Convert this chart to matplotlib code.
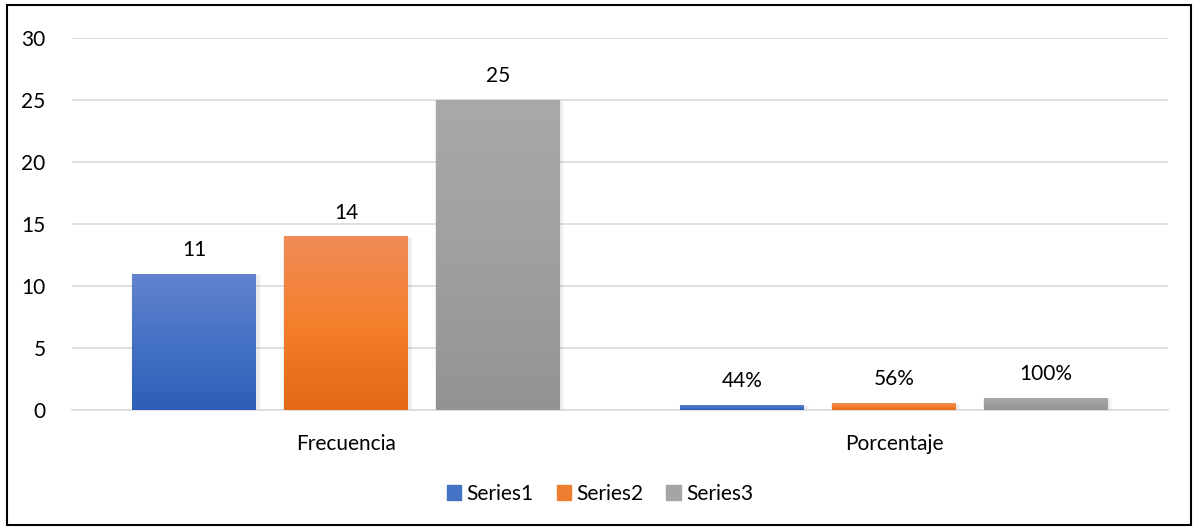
import matplotlib
matplotlib.use("Agg")
import matplotlib.pyplot as plt
import numpy as np
from matplotlib.colors import LinearSegmentedColormap
from matplotlib.patches import Rectangle

categories = ["Frecuencia", "Porcentaje"]
series_names = ["Series1", "Series2", "Series3"]
series1 = [11, 0.44]
series2 = [14, 0.56]
series3 = [25, 1.00]
labels1 = ["11", "44%"]
labels2 = ["14", "56%"]
labels3 = ["25", "100%"]
yticks = [0, 5, 10, 15, 20, 25, 30]

plt.rcParams['font.family'] = ['Lato', 'DejaVu Sans']
FS = 15

gradients = [
    ("#6383CE", "#4472C4", "#2D5EB8"),
    ("#F08C57", "#F47F2D", "#E36915"),
    ("#A9A9A9", "#A0A0A0", "#939393"),
]
legend_colors = ["#4472C4", "#ED7D31", "#A5A5A5"]

fig = plt.figure(figsize=(11.98, 5.29), dpi=100)
ax = fig.add_axes([72/1198, 1 - 410/529, 1096/1198, 372/529])

x = np.arange(len(categories))
width = 0.226
step = 0.277
all_series = [series1, series2, series3]
all_labels = [labels1, labels2, labels3]

ax.set_xlim(-0.5, 1.5)
ax.set_ylim(0, 30)

for i, (vals, labs) in enumerate(zip(all_series, all_labels)):
    pos = x + (i - 1) * step
    # shadow
    for dx, a in [(0.006, 0.10), (0.010, 0.06)]:
        ax.bar(pos + dx * 0.3, vals, width + dx, bottom=-0.08, color="#808080",
               alpha=a, zorder=2, linewidth=0)
    bars = ax.bar(pos, vals, width, color=legend_colors[i], zorder=3,
                  linewidth=0, label=series_names[i])
    cmap = LinearSegmentedColormap.from_list("g%d" % i, list(gradients[i][::-1]))
    grad = np.linspace(0, 1, 256).reshape(-1, 1)
    for b, v, lab in zip(bars, vals, labs):
        x0 = b.get_x()
        im = ax.imshow(grad, cmap=cmap, aspect="auto", origin="lower",
                       extent=[x0, x0 + width, 0, v], zorder=4,
                       interpolation="bilinear")
        im.set_clip_path(b)
        ax.text(b.get_x() + width / 2, v + 1.1, lab, ha="center", va="bottom",
                fontsize=FS, color="#000000", zorder=5)

ax.set_xlim(-0.5, 1.5)
ax.set_ylim(0, 30)
ax.set_yticks(yticks)
ax.set_yticklabels([str(t) for t in yticks], fontsize=FS)
ax.set_xticks(x)
ax.set_xticklabels(categories, fontsize=FS)
ax.tick_params(axis="both", length=0, colors="#000000")
ax.tick_params(axis="y", pad=19)
ax.tick_params(axis="x", pad=17)
ax.grid(axis="y", color="#D9D9D9", linewidth=1.2, zorder=0)
ax.set_axisbelow(True)
for s in ["top", "right", "left"]:
    ax.spines[s].set_visible(False)
ax.spines["bottom"].set_color("#D9D9D9")
ax.spines["bottom"].set_linewidth(1.2)

handles = [Rectangle((0, 0), 1, 1, color=c) for c in legend_colors]
fig.legend(handles, series_names, loc="center", bbox_to_anchor=(600/1198, 1 - 494/529),
           ncol=3, frameon=False, fontsize=FS, handlelength=0.7, handleheight=0.7,
           handletextpad=0.25, columnspacing=1.1)

border = Rectangle((7/1198, 4/529), 1184/1198, 520/529, transform=fig.transFigure,
                   fill=False, edgecolor="#000000", linewidth=1.5)
fig.patches.append(border)

fig.savefig("out.png", dpi=100)
